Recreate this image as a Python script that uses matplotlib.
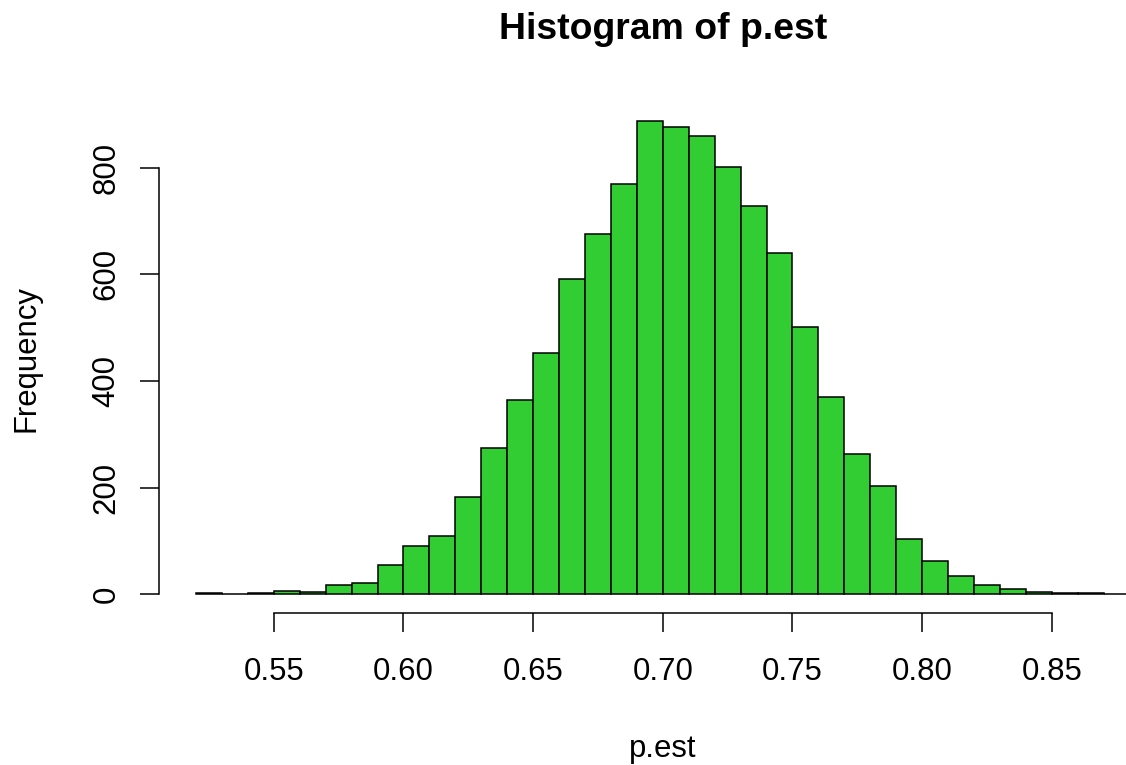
import numpy as np
import matplotlib
matplotlib.use("Agg")
import matplotlib.pyplot as plt

# histogram of p.est, bins of width 0.01 from 0.52 to 0.88
bin_edges = np.round(np.arange(0.52, 0.8801, 0.01), 2)
counts = [2, 0, 2, 6, 4, 17, 22, 56, 90, 109, 182, 274, 364, 452, 591,
          675, 770, 887, 877, 859, 801, 728, 640, 501, 370, 263, 204,
          104, 62, 34, 17, 11, 4, 3, 2, 1]
x_ticks = [0.55, 0.60, 0.65, 0.70, 0.75, 0.80, 0.85]
y_ticks = [0, 200, 400, 600, 800]

plt.rcParams['font.family'] = ['Liberation Sans', 'DejaVu Sans']

W, H = 1126, 765
fig = plt.figure(figsize=(W / 100, H / 100), dpi=100)

# R-style limits: 4% padding around data range
xr = (bin_edges[0], bin_edges[-1])
xpad = 0.04 * (xr[1] - xr[0])
ymax = max(counts)
ypad = 0.04 * ymax
xlim = (xr[0] - xpad, xr[1] + xpad)
ylim = (-ypad, ymax + ypad)

left_px, right_px, top_px, bot_px = 158.7, 1166.9, 102.3, 613.3
ax = fig.add_axes([left_px / W, 1 - bot_px / H,
                   (right_px - left_px) / W, (bot_px - top_px) / H])
ax.set_xlim(*xlim)
ax.set_ylim(*ylim)

ax.bar(bin_edges[:-1], counts, width=np.diff(bin_edges), align='edge',
       color='#32CD32', edgecolor='black', linewidth=1.1)

for s in ['top', 'right']:
    ax.spines[s].set_visible(False)
ax.spines['left'].set_bounds(0, 800)
ax.spines['bottom'].set_bounds(0.55, 0.85)
for s in ['left', 'bottom']:
    ax.spines[s].set_linewidth(1.1)

ax.set_xticks(x_ticks)
ax.set_xticklabels([f"{t:.2f}" for t in x_ticks])
ax.set_yticks(y_ticks)
ax.set_yticklabels([str(t) for t in y_ticks], rotation=90, va='center')
ax.tick_params(axis='both', direction='out', length=13.7, width=1.1,
               labelsize=22.4, colors='black')
ax.tick_params(axis='x', pad=17.5)
ax.tick_params(axis='y', pad=13)

fig.text(662.8 / W, 1 - 39 / H, "Histogram of p.est", ha='center',
         va='baseline', fontsize=26.9, fontweight='bold')
fig.text(662.8 / W, 1 - 757 / H, "p.est", ha='center', va='baseline',
         fontsize=22.4)
fig.text(27 / W, 1 - 358 / H, "Frequency", ha='center', va='center',
         rotation=90, fontsize=22.4)

fig.savefig("out.png", dpi=100)
